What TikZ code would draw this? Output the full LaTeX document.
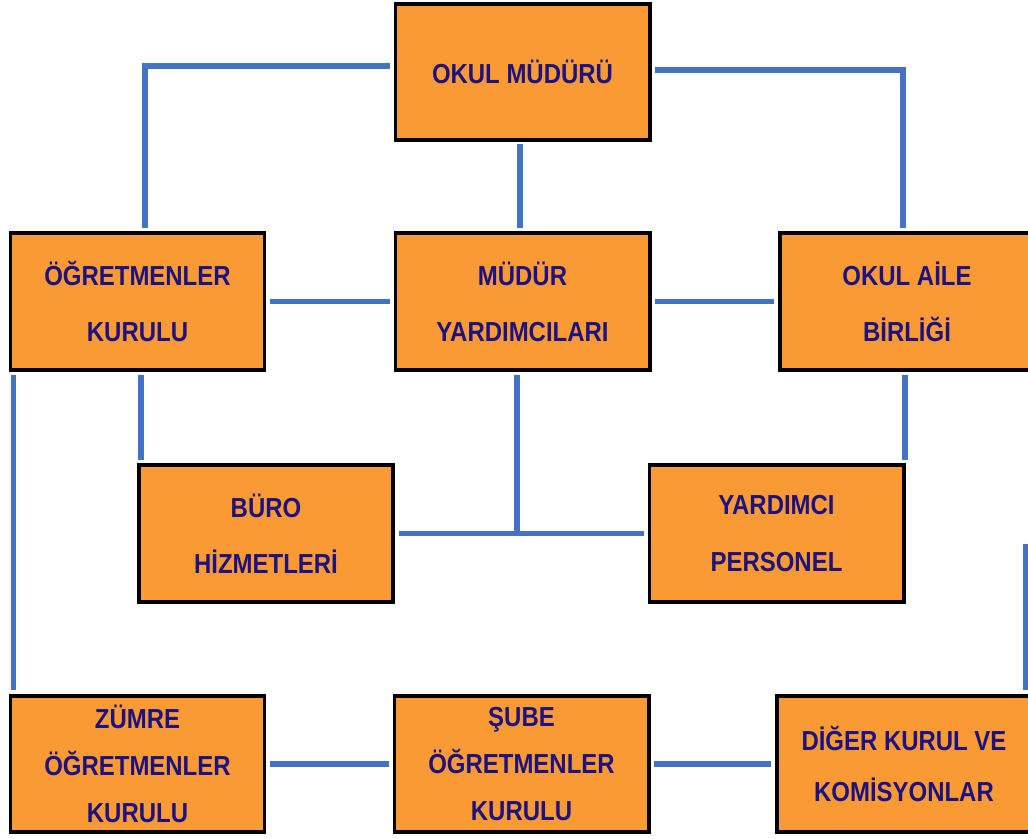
\documentclass[tikz,border=0pt]{standalone}
\usepackage{fontspec}
\setmainfont[FakeStretch=0.87]{Liberation Sans}
\usepackage{xcolor}
\usetikzlibrary{positioning, calc}
\definecolor{kututuruncu}{RGB}{249,154,53}
\definecolor{yazilacivert}{RGB}{28,18,128}
\definecolor{hatmavi}{RGB}{68,114,196}

\tikzset{
	kutu/.style={draw=black, line width=3.4pt, fill=kututuruncu, text=yazilacivert, align=center,
		minimum width=7.62cm, minimum height=4.1cm, inner sep=0pt,
		font=\fontsize{23.5}{48}\selectfont\bfseries},
	uclu/.style={kutu, font=\fontsize{23.5}{40}\selectfont\bfseries},
	hat/.style={hatmavi, line width=5pt, shorten >=3pt, shorten <=3pt}
}

\begin{document}
\begin{tikzpicture}[x=0.03cm, y=-0.03cm]
		\useasboundingbox (0,0) rectangle (1028,839);
		
		\node[kutu] (mudur) at (522.5,72) {OKUL MÜDÜRÜ};
		\node[kutu] (ogretmen) at (137.5,301.5) {ÖĞRETMENLER\\KURULU};
		\node[kutu] (yardimci) at (522.5,301.5) {MÜDÜR\\YARDIMCILARI};
		\node[kutu] (aile) at (907,301.5) {OKUL AİLE\\BİRLİĞİ};
		\node[kutu] (buro) at (266,533.5) {BÜRO\\HİZMETLERİ};
		\node[kutu] (personel) at (776.5,533.5) {YARDIMCI\\PERSONEL};
		\node[uclu] (zumre) at (137.5,764) {ZÜMRE\\ÖĞRETMENLER\\KURULU};
		\node[uclu] (sube) at (521.5,764) {ŞUBE\\ÖĞRETMENLER\\KURULU};
		\node[kutu, font=\fontsize{23.5}{43}\selectfont\bfseries] (diger) at (904,764) {DİĞER KURUL VE\\KOMİSYONLAR};
		\coordinate (serbest) at (1026,540);
		
		\draw[hat] ([yshift=0.18cm]mudur.west) -| ([xshift=0.22cm]ogretmen.north);
		\draw[hat] ([yshift=0.06cm]mudur.east) -| ([xshift=-0.12cm]aile.north);
		\draw[hat, shorten <=1pt] ([xshift=-0.08cm]mudur.south) -- ([xshift=-0.08cm]yardimci.north);
		\draw[hat] (ogretmen.east) -- (yardimci.west);
		\draw[hat] (yardimci.east) -- (aile.west);
		\draw[hat, shorten >=0pt] ([xshift=-0.16cm]yardimci.south) -- ([xshift=-0.16cm]yardimci.south |- buro.east);
		\draw[hat] (buro.east) -- (personel.west);
		\draw[hat] ([xshift=0.12cm]buro.north west |- ogretmen.south) -- ([xshift=0.12cm]buro.north west);
		\draw[hat] ([xshift=-0.02cm]personel.north east |- aile.south) -- ([xshift=-0.02cm]personel.north east);
		\draw[hat] ([xshift=0.15cm]ogretmen.south west) -- ([xshift=0.15cm]zumre.north west);
		\draw[hat] (serbest) -- (serbest |- diger.north);
		\draw[hat] (zumre.east) -- (sube.west);
		\draw[hat] (sube.east) -- (diger.west);
		
\end{tikzpicture}
\end{document}
